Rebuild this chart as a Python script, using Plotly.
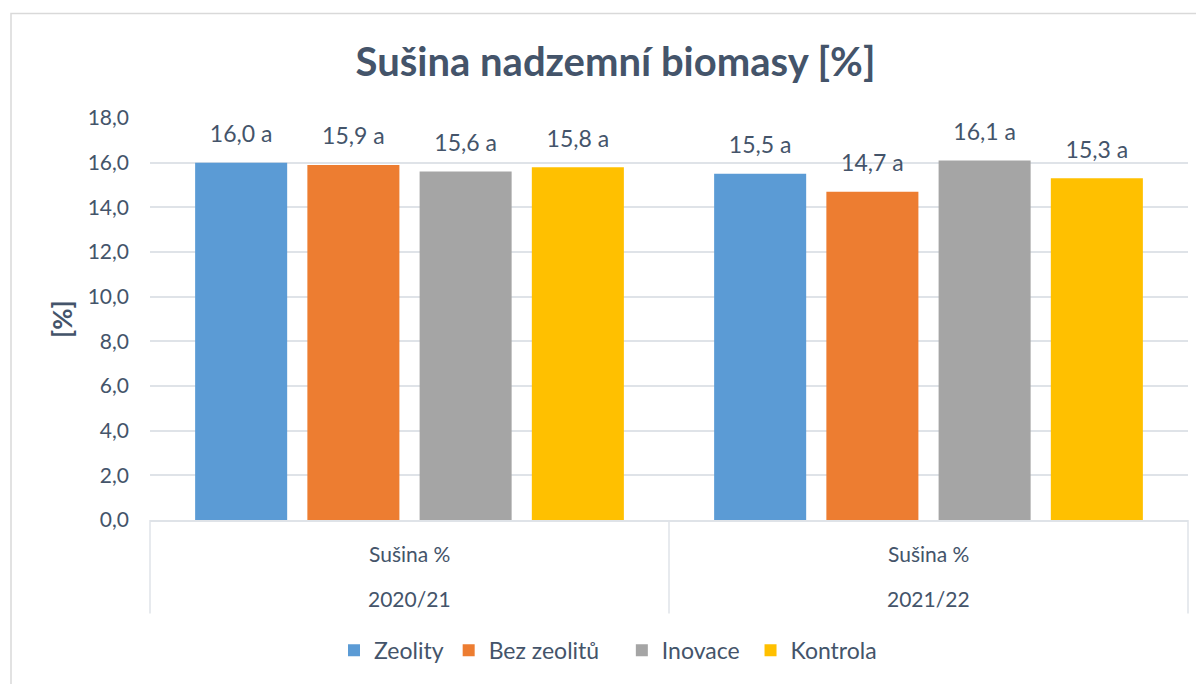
import plotly.graph_objects as go

seasons = ["2020/21", "2021/22"]
measure = "Sušina %"
series = ["Zeolity", "Bez zeolitů", "Inovace", "Kontrola"]
values = {
    "Zeolity": [16.0, 15.5],
    "Bez zeolitů": [15.9, 14.7],
    "Inovace": [15.6, 16.1],
    "Kontrola": [15.8, 15.3],
}
letters = {
    "Zeolity": ["a", "a"],
    "Bez zeolitů": ["a", "a"],
    "Inovace": ["a", "a"],
    "Kontrola": ["a", "a"],
}
colors = {
    "Zeolity": "#5b9bd5",
    "Bez zeolitů": "#ed7d31",
    "Inovace": "#a5a5a5",
    "Kontrola": "#ffc000",
}
# extra legend padding (non-breaking spaces) so entries spread like the original
legend_pad = {"Zeolity": 0, "Bez zeolitů": 3, "Inovace": 1, "Kontrola": 0}
y_ticks = [0, 2, 4, 6, 8, 10, 12, 14, 16, 18]

text_color = "#44546a"
line_color = "#dfe3e8"
font_family = "Lato, Open Sans, sans-serif"

# the page puts the plot 8px in from the top-left corner
W, H = 1196, 676
L, R, T, B = 142, 16, 110, 162
plot_h = H - T - B


def py(y_fig):
    # figure pixel row -> paper y
    return (H - B - y_fig) / plot_h


def px(x_fig):
    return (x_fig - L) / (W - L - R)


fig = go.Figure()
for name in series:
    fig.add_trace(go.Bar(
        name=name + "\u00a0" * legend_pad[name],
        x=seasons,
        y=values[name],
        offsetgroup=name,
        marker=dict(color=colors[name], line=dict(width=0)),
    ))

# value labels, placed with the bar groups
for name in series:
    labels = [f"{v:.1f}".replace(".", ",") + " " + l for v, l in zip(values[name], letters[name])]
    fig.add_trace(go.Scatter(
        x=seasons,
        y=values[name],
        offsetgroup=name,
        mode="markers+text",
        marker=dict(size=22, opacity=0),
        text=labels,
        textposition="top center",
        textfont=dict(size=23, color=text_color),
        cliponaxis=False,
        showlegend=False,
        hoverinfo="skip",
    ))

fig.update_layout(
    width=W,
    height=H,
    margin=dict(l=L, r=R, t=T, b=B),
    paper_bgcolor="white",
    plot_bgcolor="white",
    font=dict(family=font_family, color=text_color),
    separators=", ",
    barmode="group",
    scattermode="group",
    bargap=0.135,
    bargroupgap=0.18,
    title=dict(
        text="<b>Sušina nadzemní biomasy [%]</b>",
        x=607.5 / W, xanchor="center",
        y=1 - 54 / H, yanchor="middle",
        font=dict(size=40, color=text_color, family=font_family),
    ),
    legend=dict(
        orientation="h",
        x=px(326), xanchor="left",
        y=py(645), yanchor="middle",
        font=dict(size=23, color=text_color),
        traceorder="normal",
    ),
    showlegend=True,
)

fig.update_yaxes(
    range=[0, 18],
    tickvals=y_ticks,
    tickformat=".1f",
    tickfont=dict(size=21, color=text_color),
    ticklabelstandoff=20,
    showgrid=True,
    gridcolor=line_color,
    gridwidth=1.5,
    zeroline=False,
    showline=False,
)
fig.update_xaxes(
    showticklabels=False,
    showline=True,
    linecolor=line_color,
    linewidth=1.5,
    showgrid=False,
    ticks="",
)

# y axis title
fig.add_annotation(
    text="<b>[%]</b>", x=px(54), y=0.5, xref="paper", yref="paper",
    xanchor="center", yanchor="middle",
    textangle=-90, showarrow=False, font=dict(size=26, color=text_color),
)

# two-level category labels
for season in seasons:
    fig.add_annotation(
        text=measure, x=season, y=py(548), xref="x", yref="paper",
        xanchor="center", yanchor="middle",
        showarrow=False, font=dict(size=21, color=text_color),
    )
    fig.add_annotation(
        text=season, x=season, y=py(593), xref="x", yref="paper",
        xanchor="center", yanchor="middle",
        showarrow=False, font=dict(size=21, color=text_color),
    )

# category dividers
for xd in [0, 0.5, 1]:
    fig.add_shape(
        type="line", xref="x domain", yref="paper",
        x0=xd, x1=xd, y0=0, y1=py(608),
        line=dict(color=line_color, width=1.5),
    )

# chart border
fig.add_shape(
    type="rect", xref="paper", yref="paper",
    x0=px(3), x1=1.2, y0=-0.6, y1=py(5),
    line=dict(color="#d9d9d9", width=1.5),
    layer="below",
)

fig.write_html("out.html")
